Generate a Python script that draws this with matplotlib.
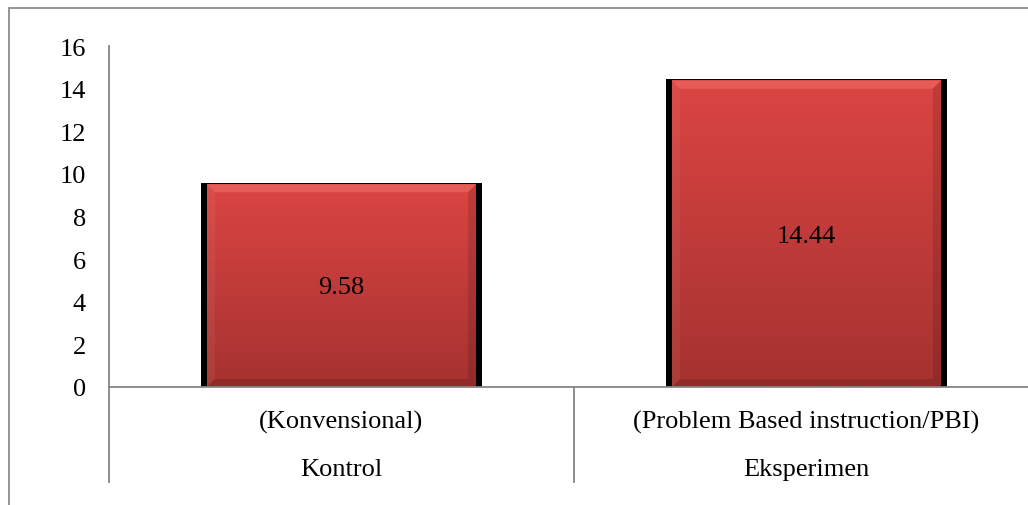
import numpy as np
import matplotlib
matplotlib.use("Agg")
import matplotlib.pyplot as plt
from matplotlib.patches import Rectangle, Polygon
from matplotlib.transforms import blended_transform_factory

categories = ["Kontrol", "Eksperimen"]
subcategories = ["(Konvensional)", "(Problem Based instruction/PBI)"]
values = [9.58, 14.44]
yticks = [0, 2, 4, 6, 8, 10, 12, 14, 16]

plt.rcParams['font.family'] = ['Liberation Serif', 'DejaVu Serif']
fs = 19

W, H = 1028, 506
fig = plt.figure(figsize=(W / 100, H / 100), dpi=100)

# outer chart border (runs off the right and bottom edges, like the source)
fig.patches.append(Rectangle((9 / W, -0.1), 1.2, 1 - 9 / H + 0.1, transform=fig.transFigure,
                             fill=False, ec='#8c8c8c', lw=1.3, zorder=0))

ax = fig.add_axes([109 / W, (H - 388) / H, (1039 - 109) / W, (388 - 47) / H])
ax.set_xlim(-0.5, 1.5)
ax.set_ylim(0, 16)

xpx = 465.0        # pixels per category
ypx = 341.0 / 16   # pixels per y unit
bar_w = 0.604

top_col = np.array([219, 69, 66]) / 255
bot_col = np.array([165, 50, 48]) / 255


def bevel_bar(ax, x, v, w):
    x0, x1 = x - w / 2, x + w / 2
    sx = 6 / xpx
    ty = 1.5 / ypx
    # black body (the dark sides)
    ax.add_patch(Rectangle((x0, 0), w, v, fc='black', ec='none', zorder=2))
    fx0, fx1, ftop = x0 + sx, x1 - sx, v - ty
    grad = np.linspace(0, 1, 256)[:, None, None]
    img = top_col + (bot_col - top_col) * grad
    ax.imshow(img, extent=[fx0, fx1, 0, ftop], aspect='auto', origin='upper', zorder=3)
    # bevel edges, kept soft
    bw = 8 / xpx
    bh = 8 / ypx
    ax.add_patch(Polygon([(fx0, ftop), (fx1, ftop), (fx1 - bw, ftop - bh), (fx0 + bw, ftop - bh)],
                         closed=True, fc='#f0706a', ec='none', alpha=0.55, zorder=4))
    ax.add_patch(Polygon([(fx0, ftop), (fx0 + bw, ftop - bh), (fx0 + bw, bh), (fx0, 0)],
                         closed=True, fc='white', ec='none', alpha=0.05, zorder=4))
    ax.add_patch(Polygon([(fx1, ftop), (fx1 - bw, ftop - bh), (fx1 - bw, bh), (fx1, 0)],
                         closed=True, fc='black', ec='none', alpha=0.12, zorder=4))
    ax.add_patch(Polygon([(fx0, 0), (fx1, 0), (fx1 - bw, bh), (fx0 + bw, bh)],
                         closed=True, fc='black', ec='none', alpha=0.12, zorder=4))


for i, v in enumerate(values):
    bevel_bar(ax, i, v, bar_w)
    ax.text(i, v / 2, f"{v:.2f}", ha='center', va='center_baseline', fontsize=fs, zorder=5)

ax.set_xlim(-0.5, 1.5)
ax.set_ylim(0, 16)

for s in ['top', 'right']:
    ax.spines[s].set_visible(False)
for s in ['left', 'bottom']:
    ax.spines[s].set_color('#868686')
    ax.spines[s].set_linewidth(1.3)
ax.spines['bottom'].set_zorder(6)

ax.set_xticks([])
ax.set_yticks(yticks)
ax.tick_params(axis='y', length=0, pad=16.5, labelsize=fs)

# multi-level category axis
tr = blended_transform_factory(ax.transData, ax.transAxes)
for xd in [-0.5, 0.5, 1.5]:
    ax.plot([xd, xd], [0, -95 / 341], transform=tr, color='#868686', lw=1.3, clip_on=False)
for i in range(len(categories)):
    ax.text(i, -32 / 341, subcategories[i], transform=tr, ha='center', va='center_baseline', fontsize=fs)
    ax.text(i, -80 / 341, categories[i], transform=tr, ha='center', va='center_baseline', fontsize=fs)

fig.savefig("out.png", dpi=100)
